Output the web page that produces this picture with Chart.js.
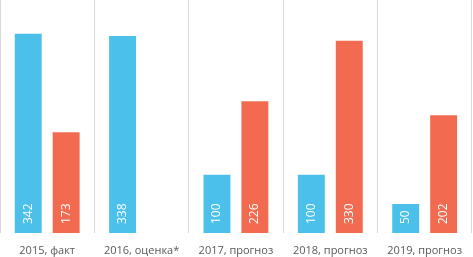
<!DOCTYPE html>
<html><head><meta charset="utf-8">
<script src="https://cdn.jsdelivr.net/npm/chart.js@4/dist/chart.umd.min.js"></script>
<style>html,body{margin:0;padding:0;background:#fff}#w{width:473px;height:257px;position:relative}</style>
</head><body><div id="w"><canvas id="c"></canvas></div>
<script>
const categories = ["2015, факт", "2016, оценка*", "2017, прогноз", "2018, прогноз", "2019, прогноз"];
const seriesBlue = [342, 338, 100, 100, 50];
const seriesRed = [173, null, 226, 330, 202];

const barLabels = {
  id: 'barLabels',
  afterDatasetsDraw(chart) {
    const ctx = chart.ctx;
    chart.data.datasets.forEach((ds, i) => {
      const meta = chart.getDatasetMeta(i);
      meta.data.forEach((el, j) => {
        const v = ds.data[j];
        if (v === null || v === undefined) return;
        ctx.save();
        ctx.translate(el.x, el.base - 9);
        ctx.rotate(-Math.PI / 2);
        ctx.fillStyle = '#ffffff';
        ctx.font = '12px "Open Sans", sans-serif';
        ctx.textAlign = 'left';
        ctx.textBaseline = 'middle';
        ctx.fillText(String(v), 0, 0);
        ctx.restore();
      });
    });
  }
};

new Chart(document.getElementById('c'), {
  type: 'bar',
  data: {
    labels: categories,
    datasets: [
      { data: seriesBlue, backgroundColor: '#4BC0EB' },
      { data: seriesRed, backgroundColor: '#F26B50' }
    ]
  },
  options: {
    responsive: true,
    maintainAspectRatio: false,
    animation: false,
    events: [],
    layout: { padding: 0 },
    categoryPercentage: 0.804,
    barPercentage: 0.71,
    plugins: { legend: { display: false }, tooltip: { enabled: false } },
    scales: {
      x: {
        afterFit(scale) { scale.height = 24; },
        grid: { display: true, offset: true, color: '#d9d9d9', drawTicks: false },
        border: { display: false },
        ticks: { color: '#595959', font: { family: '"Open Sans", sans-serif', size: 11 }, padding: 11, maxRotation: 0, autoSkip: false }
      },
      y: {
        display: false,
        min: 0, max: 400
      }
    }
  },
  plugins: [barLabels]
});
</script></body></html>
